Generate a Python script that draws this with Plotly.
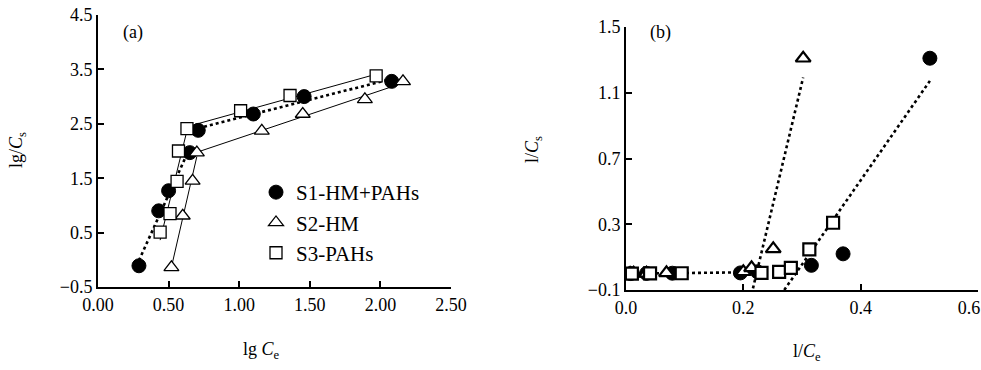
import numpy as np
import plotly.graph_objects as go

# ---------------- data ----------------
# Panel (a): lg Ce vs lg Cs
a_s1_x = [0.29, 0.43, 0.50, 0.65, 0.71, 1.10, 1.46, 2.08]
a_s1_y = [-0.11, 0.90, 1.27, 1.97, 2.38, 2.68, 3.00, 3.28]
a_s2_x = [0.52, 0.60, 0.67, 0.70, 1.16, 1.45, 1.89, 2.16]
a_s2_y = [-0.14, 0.81, 1.45, 1.97, 2.37, 2.68, 2.95, 3.28]
a_s3_x = [0.44, 0.51, 0.56, 0.57, 0.63, 1.01, 1.36, 1.97]
a_s3_y = [0.51, 0.85, 1.44, 2.00, 2.41, 2.74, 3.02, 3.38]

# Panel (b): 1/Ce vs 1/Cs
b_s1_x = [0.008, 0.035, 0.079, 0.195, 0.224, 0.316, 0.370, 0.518]
b_s1_y = [0.000, 0.001, 0.002, 0.004, 0.011, 0.050, 0.120, 1.310]
b_s2_x = [0.007, 0.013, 0.035, 0.069, 0.200, 0.214, 0.251, 0.302]
b_s2_y = [0.000, 0.001, 0.002, 0.004, 0.011, 0.035, 0.150, 1.310]
b_s3_x = [0.010, 0.041, 0.095, 0.231, 0.261, 0.281, 0.3125, 0.353]
b_s3_y = [0.000, 0.001, 0.002, 0.004, 0.010, 0.035, 0.147, 0.309]

series_names = ["S1-HM+PAHs", "S2-HM", "S3-PAHs"]
a_x_ticks = [0.0, 0.5, 1.0, 1.5, 2.0, 2.5]
a_y_ticks = [-0.5, 0.5, 1.5, 2.5, 3.5, 4.5]
b_x_ticks = [0.0, 0.2, 0.4, 0.6]
b_x_labels = ["0.0", "0.2", "0.4",
              "0.6<span style='color:rgba(255,255,255,0)'>00</span>"]
b_y_ticks = [-0.1, 0.3, 0.7, 1.1, 1.5]

FONT = "Liberation Serif, Times New Roman, serif"

W, H = 981, 370


def px_x(p):
    return p / W


def px_y(p):
    return 1 - p / H


def fit_segment(xs, ys, idx, y_floor=None):
    """Least-squares straight line over a subset of points."""
    px = np.array([xs[i] for i in idx])
    py = np.array([ys[i] for i in idx])
    k, b = np.polyfit(px, py, 1)
    x0, x1 = px.min(), px.max()
    if y_floor is not None and k > 0:
        x0 = (y_floor - b) / k
    return [x0, x1], [k * x0 + b, k * x1 + b]


fig = go.Figure()

# ---------- panel (a) trend lines ----------
for xs, ys, idxs, dash, w in [
    (a_s1_x, a_s1_y, [0, 1, 2, 3], "dot", 2.6),
    (a_s1_x, a_s1_y, [4, 5, 6, 7], "dot", 2.6),
    (a_s2_x, a_s2_y, [0, 1, 2, 3], "solid", 1),
    (a_s2_x, a_s2_y, [3, 4, 5, 6, 7], "solid", 1),
    (a_s3_x, a_s3_y, [0, 1, 2, 3, 4], "solid", 1),
    (a_s3_x, a_s3_y, [4, 5, 6, 7], "solid", 1),
]:
    lx, ly = fit_segment(xs, ys, idxs)
    fig.add_trace(go.Scatter(x=lx, y=ly, mode="lines", showlegend=False,
                             line=dict(color="black", width=w, dash=dash),
                             xaxis="x", yaxis="y", hoverinfo="skip"))

# ---------- panel (b) trend lines ----------
k, b0 = np.polyfit(b_s1_x[:5], b_s1_y[:5], 1)
lx = [0.0, 0.23]
fig.add_trace(go.Scatter(x=lx, y=[k * v + b0 for v in lx], mode="lines", showlegend=False,
                         line=dict(color="black", width=2.6, dash="dot"),
                         xaxis="x2", yaxis="y2", hoverinfo="skip"))
lx, ly = fit_segment(b_s2_x, b_s2_y, [5, 6, 7], y_floor=-0.09)
fig.add_trace(go.Scatter(x=lx, y=ly, mode="lines", showlegend=False,
                         line=dict(color="black", width=2.6, dash="dot"),
                         xaxis="x2", yaxis="y2", hoverinfo="skip"))
cx = b_s3_x[4:] + b_s1_x[5:]
cy = b_s3_y[4:] + b_s1_y[5:]
lx, ly = fit_segment(cx, cy, list(range(len(cx))), y_floor=-0.1)
fig.add_trace(go.Scatter(x=lx, y=ly, mode="lines", showlegend=False,
                         line=dict(color="black", width=2.6, dash="dot"),
                         xaxis="x2", yaxis="y2", hoverinfo="skip"))

# ---------- markers ----------
styles = [
    dict(symbol="circle", size=14, color="black", line=dict(color="black", width=1)),
    dict(symbol="triangle-up", size=13, color="white", line=dict(color="black", width=1.3)),
    dict(symbol="square", size=12, color="white", line=dict(color="black", width=1.3)),
]
stylesb = [
    dict(symbol="circle", size=14, color="black", line=dict(color="black", width=1)),
    dict(symbol="triangle-up", size=13, color="white", line=dict(color="black", width=2.2)),
    dict(symbol="square", size=12, color="white", line=dict(color="black", width=2.2)),
]
a_data = [(a_s1_x, a_s1_y), (a_s2_x, a_s2_y), (a_s3_x, a_s3_y)]
b_data = [(b_s1_x, b_s1_y), (b_s2_x, b_s2_y), (b_s3_x, b_s3_y)]
for i in range(3):
    fig.add_trace(go.Scatter(x=b_data[i][0], y=b_data[i][1], mode="markers",
                             marker=stylesb[i], showlegend=False,
                             xaxis="x2", yaxis="y2"))
for i in range(3):
    fig.add_trace(go.Scatter(x=a_data[i][0], y=a_data[i][1], mode="markers",
                             marker=styles[i], name=series_names[i],
                             xaxis="x", yaxis="y"))

axis_common = dict(showline=True, linecolor="black", linewidth=2, ticks="inside",
                   ticklen=6, tickwidth=2, tickcolor="black", showgrid=False,
                   zeroline=False, mirror=False, automargin=False,
                   ticklabeloverflow="allow",
                   tickfont=dict(family=FONT, size=18, color="black"))

fig.update_layout(
    width=W, height=H,
    margin=dict(l=0, r=0, t=0, b=0, pad=0),
    paper_bgcolor="white", plot_bgcolor="white",
    font=dict(family=FONT, color="black"),
    xaxis=dict(domain=[px_x(98), px_x(451)], range=[0, 2.5], tickvals=a_x_ticks,
               tickformat=".2f", anchor="y", **axis_common),
    yaxis=dict(domain=[px_y(287), px_y(15)], range=[-0.5, 4.5],
               tickvals=a_y_ticks, tickformat=".1f", anchor="x", **axis_common),
    xaxis2=dict(domain=[px_x(626), px_x(978)], range=[0, 0.6], tickvals=b_x_ticks,
                ticktext=b_x_labels, anchor="y2", **axis_common),
    yaxis2=dict(domain=[px_y(290), px_y(27)], range=[-0.1, 1.5],
                tickvals=b_y_ticks, tickformat=".1f", anchor="x2", **axis_common),
    legend=dict(x=px_x(256), y=px_y(172), xanchor="left", yanchor="top",
                bgcolor="rgba(0,0,0,0)", font=dict(family=FONT, size=21, color="black"),
                itemwidth=30, tracegroupgap=0),
    showlegend=True,
)

anns = [
    dict(text="(a)", x=133, y=33),
    dict(text="(b)", x=660, y=33),
    dict(text="lg <i>C</i><sub>e</sub>", x=261, y=350),
    dict(text="l/<i>C</i><sub>e</sub>", x=807, y=352),
    dict(text="lg/<i>C</i><sub>s</sub>", x=17, y=150, textangle=-90),
    dict(text="l/<i>C</i><sub>s</sub>", x=533, y=150, textangle=-90),
]
for a in anns:
    fig.add_annotation(text=a["text"], x=px_x(a["x"]), y=px_y(a["y"]),
                       xref="paper", yref="paper", showarrow=False,
                       xanchor="center", yanchor="middle",
                       textangle=a.get("textangle", 0),
                       font=dict(family=FONT, size=18, color="black"))

# remove the browser's default 8px page margin so the figure fills the window
fig.write_html("out.html", config={"displayModeBar": False},
               post_script="document.body.style.margin='0';")
